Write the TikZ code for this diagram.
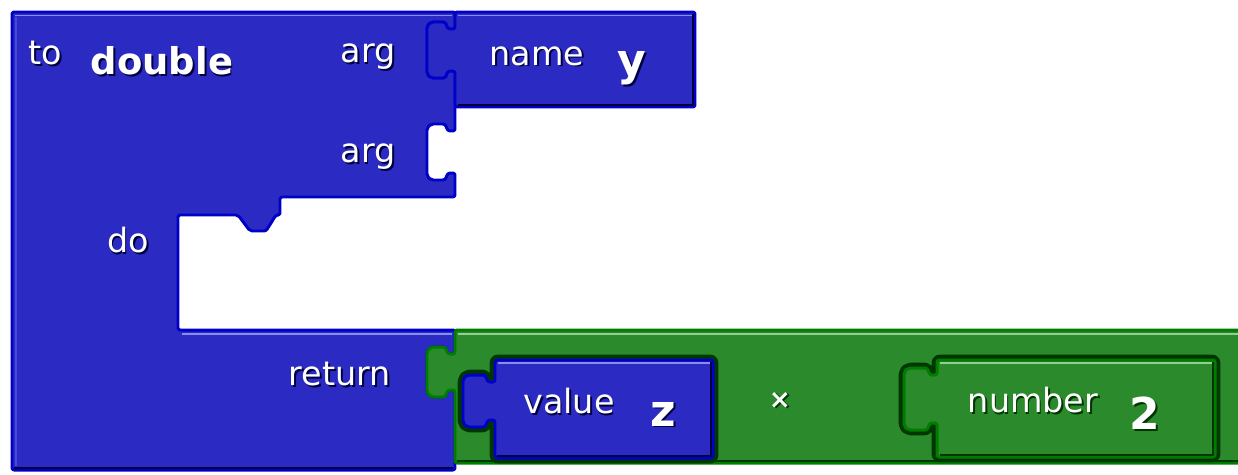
\documentclass[tikz,border=0pt]{standalone}
\usepackage{fontspec}
\setmainfont{DejaVu Sans}
\usetikzlibrary{calc}

\definecolor{bfill}{RGB}{43,43,196}
\definecolor{bedge}{RGB}{0,0,200}
\definecolor{blite}{RGB}{140,140,232}
\definecolor{bside}{RGB}{72,72,216}
\definecolor{bdark}{RGB}{0,0,60}
\definecolor{gfill}{RGB}{43,138,43}
\definecolor{gedge}{RGB}{0,125,0}
\definecolor{glite}{RGB}{150,205,150}
\definecolor{gdark}{RGB}{0,55,0}

\tikzset{
  bblock/.style={fill=bfill, draw=bedge, line width=1.7pt, rounded corners=1.2pt},
  gblock/.style={fill=gfill, draw=gedge, line width=1.7pt, rounded corners=1.2pt},
  recess/.style={fill=gdark, draw=gdark, line width=6pt, rounded corners=1.2pt},
  bhi/.style={draw=blite, line width=1.1pt},
  bhiside/.style={draw=bside, line width=1.1pt},
  ghi/.style={draw=glite, line width=1.1pt},
  bsh/.style={draw=bdark, line width=0.9pt},
  gsh/.style={draw=gdark, line width=0.9pt},
  lbl/.style={inner sep=0pt, font=\fontsize{19}{21}\selectfont},
  lblb/.style={inner sep=0pt, font=\bfseries\fontsize{21}{23}\selectfont},
  lblbig/.style={inner sep=0pt, font=\bfseries\fontsize{25}{27}\selectfont},
  lbls/.style={inner sep=0pt, font=\bfseries\fontsize{15}{17}\selectfont}
}

% puzzle tab: edge x, head top y, height, depth
\newcommand{\tabdown}[4]{-- (#1,#2+7) -- (#1-7,#2+7) -- (#1-10,#2) -- (#1-#4+4,#2) -- (#1-#4,#2+4) -- (#1-#4,#2+#3-4) -- (#1-#4+4,#2+#3) -- (#1-10,#2+#3) -- (#1-7,#2+#3-7) -- (#1,#2+#3-7)}
\newcommand{\tabup}[4]{-- (#1,#2+#3-7) -- (#1-7,#2+#3-7) -- (#1-10,#2+#3) -- (#1-#4+4,#2+#3) -- (#1-#4,#2+#3-4) -- (#1-#4,#2+4) -- (#1-#4+4,#2) -- (#1-10,#2) -- (#1-7,#2+7) -- (#1,#2+7)}

% white text with dark shadow
\newcommand{\blocklabel}[5]{%
  \node[#4, text=#3, shift={(1.8,1.8)}] (#1-s) at (#2) {#5};
  \node[#4, text=white] (#1) at (#2) {#5};}

\begin{document}
\begin{tikzpicture}[x=0.02cm, y=-0.02cm, line join=round]
\useasboundingbox (0,0) rectangle (1238,474);
\clip (0,0) rectangle (1238,474);

% procedure block
\draw[bblock] (12,12) -- (455,12) \tabdown{455}{22}{56}{28} \tabdown{455}{124}{56}{28}
  -- (455,197) -- (280,197) -- (280,215) -- (276,215) -- (266,231) -- (250,231) -- (238,215)
  -- (178,215) -- (178,330) -- (455,330) \tabdown{455}{347}{50}{28} -- (455,470) -- (12,470) -- cycle;
\draw[bhi] (15,15.5) -- (452,15.5);
\draw[bhiside] (16,17) -- (16,466);
\draw[bhi] (182,334) -- (452,334);
\draw[bsh] (14,468) -- (453,468);

% name y
\draw[bblock] (455,12) -- (695,12) -- (695,107) -- (455,107) \tabup{455}{22}{56}{28} -- cycle;
\draw[bhi] (458,15.5) -- (692,15.5);
\draw[bsh] (693,14) -- (693,105) -- (458,105);

% times block
\draw[gblock] (455,330) -- (1250,330) -- (1250,463) -- (455,463) \tabup{455}{347}{50}{28} -- cycle;
\draw[ghi] (458,334) -- (1238,334);
\draw[gsh] (457,461) -- (1238,461);

\draw[recess] (495,360) -- (713,360) -- (713,458) -- (495,458) \tabup{495}{375}{52}{32} -- cycle;
\draw[recess] (937,360) -- (1215,360) -- (1215,457) -- (937,457) \tabup{937}{368}{62}{33} -- cycle;

% value z
\draw[bblock] (495,360) -- (713,360) -- (713,458) -- (495,458) \tabup{495}{375}{52}{32} -- cycle;
\draw[bhi] (498,363) -- (710,363);
\draw[bsh] (711,362) -- (711,456) -- (497,456);

% number 2
\draw[gblock] (937,360) -- (1215,360) -- (1215,457) -- (937,457) \tabup{937}{368}{62}{33} -- cycle;
\draw[ghi] (940,363) -- (1212,363);
\draw[gsh] (1213,362) -- (1213,455) -- (940,455);

\blocklabel{to}{45,53}{bdark}{lbl}{to}
\blocklabel{dbl}{162,61}{bdark}{lblb}{double}
\blocklabel{argone}{368,57}{bdark}{lbl}{arg}
\blocklabel{argtwo}{368,157}{bdark}{lbl}{arg}
\blocklabel{name}{537,56}{bdark}{lbl}{name}
\blocklabel{ny}{632,68}{bdark}{lblbig}{y}
\blocklabel{do}{128,240}{bdark}{lbl}{do}
\blocklabel{ret}{340,374}{bdark}{lbl}{return}
\blocklabel{value}{569,401}{bdark}{lbl}{value}
\blocklabel{vz}{663,414}{bdark}{lblbig}{z}
\blocklabel{times}{780,400}{gdark}{lbls}{×}
\blocklabel{number}{1033,400}{gdark}{lbl}{number}
\blocklabel{two}{1145,413}{gdark}{lblbig}{2}
\end{tikzpicture}
\end{document}
